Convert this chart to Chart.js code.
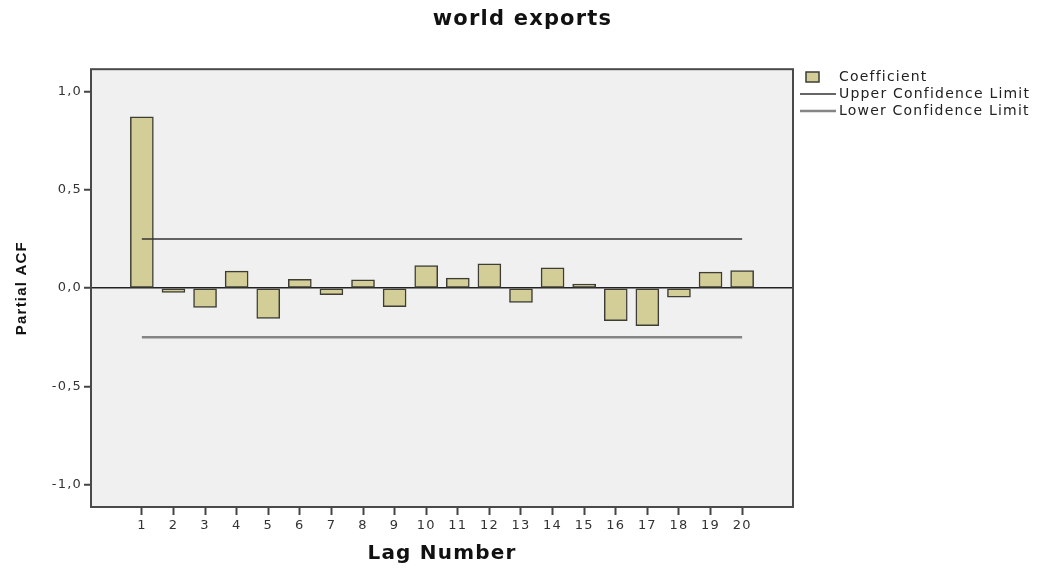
<!DOCTYPE html>
<html>
<head>
<meta charset="utf-8">
<script src="https://cdn.jsdelivr.net/npm/chart.js@4.4.1/dist/chart.umd.min.js"></script>
<style>
  html, body { margin: 0; padding: 0; background: #fff; }
</style>
</head>
<body>
<canvas id="pacfChart" width="1045" height="569"></canvas>
<script>
  // lag numbers and partial autocorrelation coefficients
  const lags = [1, 2, 3, 4, 5, 6, 7, 8, 9, 10, 11, 12, 13, 14, 15, 16, 17, 18, 19, 20];
  const coefficients = [0.871, -0.022, -0.098, 0.086, -0.154, 0.044, -0.034, 0.042, -0.095, 0.115,
                        0.051, 0.123, -0.073, 0.103, 0.020, -0.166, -0.191, -0.046, 0.081, 0.089];
  const upperLimit = 0.25;
  const lowerLimit = -0.25;
  const yTicks = [-1, -0.5, 0, 0.5, 1];

  const barColor = '#d3cd97';
  const barBorder = '#3d3d35';

  // grey plot background, frame and the legend at the right
  const plotFrame = {
    id: 'plotFrame',
    beforeDraw(chart) {
      const { ctx, chartArea: a } = chart;
      ctx.letterSpacing = '1.2px';
      ctx.save();
      ctx.fillStyle = '#f0f0f0';
      ctx.fillRect(a.left, a.top, a.right - a.left, a.bottom - a.top);
      ctx.restore();
    },
    afterDraw(chart) {
      const { ctx, chartArea: a } = chart;
      ctx.save();
      ctx.strokeStyle = '#4a4a4a';
      ctx.lineWidth = 2;
      ctx.strokeRect(a.left, a.top, a.right - a.left, a.bottom - a.top);

      const ds = chart.data.datasets;
      const rows = [77, 94, 111];
      ctx.font = '14px "DejaVu Sans"';
      ctx.textBaseline = 'middle';
      ds.forEach((d, i) => {
        const y = rows[i];
        if (d.type === 'line') {
          ctx.strokeStyle = d.borderColor;
          ctx.lineWidth = d.borderWidth;
          ctx.beginPath();
          ctx.moveTo(800, y);
          ctx.lineTo(836, y);
          ctx.stroke();
        } else {
          ctx.fillStyle = d.backgroundColor;
          ctx.fillRect(806, y - 5, 13, 10);
          ctx.strokeStyle = d.borderColor;
          ctx.lineWidth = 1.5;
          ctx.strokeRect(806, y - 5, 13, 10);
        }
        ctx.fillStyle = '#222';
        ctx.fillText(d.label, 839, y);
      });
      ctx.restore();
    }
  };

  const ctx = document.getElementById('pacfChart').getContext('2d');

  const grafico = new Chart(ctx, {
    type: 'bar',
    data: {
      datasets: [{
        type: 'bar',
        label: 'Coefficient',
        data: lags.map((l, i) => ({ x: l, y: coefficients[i] })),
        backgroundColor: barColor,
        borderColor: barBorder,
        borderWidth: 1.5,
        borderSkipped: false,
        barThickness: 23,
        order: 2
      }, {
        type: 'line',
        label: 'Upper Confidence Limit',
        data: lags.map(l => ({ x: l, y: upperLimit })),
        borderColor: '#333333',
        borderWidth: 1.5,
        pointRadius: 0,
        fill: false,
        order: 1
      }, {
        type: 'line',
        label: 'Lower Confidence Limit',
        data: lags.map(l => ({ x: l, y: lowerLimit })),
        borderColor: '#858585',
        borderWidth: 2.5,
        pointRadius: 0,
        fill: false,
        order: 1
      }]
    },
    options: {
      responsive: false,
      animation: false,
      plugins: {
        legend: { display: false },
        tooltip: { enabled: false },
        title: {
          display: true,
          text: 'world exports',
          color: '#111',
          font: { family: 'DejaVu Sans', size: 21, weight: 'bold' },
          padding: { top: 7, bottom: 37 }
        }
      },
      scales: {
        x: {
          type: 'linear',
          min: -0.61,
          max: 21.61,
          offset: false,
          afterBuildTicks: s => { s.ticks = lags.map(v => ({ value: v })); },
          afterFit: s => { s.height = 62; },
          border: { display: false },
          grid: {
            offset: false,
            drawOnChartArea: false,
            drawTicks: true,
            tickLength: 8,
            tickWidth: 2,
            tickColor: '#444'
          },
          ticks: {
            autoSkip: false,
            maxRotation: 0,
            padding: 3,
            color: '#333',
            font: { family: 'DejaVu Sans', size: 13 }
          },
          title: {
            display: true,
            text: 'Lag Number',
            color: '#111',
            font: { family: 'DejaVu Sans', size: 20, weight: 'bold' },
            padding: { top: 0, bottom: 3 }
          }
        },
        y: {
          min: -1.114,
          max: 1.114,
          afterBuildTicks: s => { s.ticks = yTicks.map(v => ({ value: v })); },
          afterFit: s => { s.width = 91; },
          border: { display: false },
          grid: {
            color: c => (c.tick && c.tick.value === 0) ? '#222' : 'rgba(0,0,0,0)',
            lineWidth: 1.5,
            drawTicks: true,
            tickLength: 7,
            tickWidth: 2,
            tickColor: '#444'
          },
          ticks: {
            padding: 2,
            color: '#333',
            font: { family: 'DejaVu Sans', size: 13 },
            callback: v => v.toFixed(1).replace('.', ',')
          },
          title: {
            display: true,
            text: 'Partial ACF',
            color: '#111',
            font: { family: 'Liberation Sans', size: 15, weight: 'bold' },
            padding: { top: 13, bottom: 0 }
          }
        },
        // empty right-hand box that leaves room for the legend
        legendSpace: {
          position: 'right',
          afterFit: s => { s.width = 252; },
          ticks: { display: false },
          grid: { display: false },
          border: { display: false }
        }
      }
    },
    plugins: [plotFrame]
  });
</script>
</body>
</html>
